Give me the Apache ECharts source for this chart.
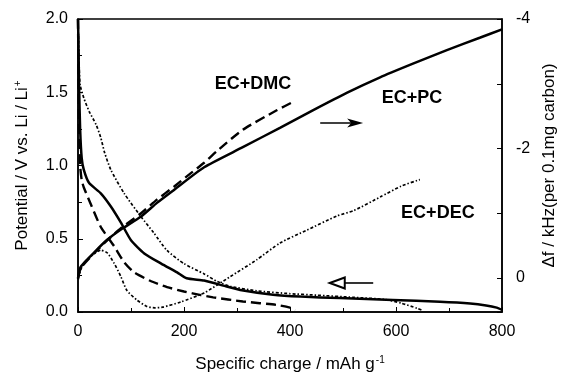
<!DOCTYPE html>
<html><head><meta charset="utf-8">
<script src="https://cdn.jsdelivr.net/npm/echarts@6/dist/echarts.min.js"></script>
<style>html,body{margin:0;padding:0;background:#fff}#c{width:564px;height:376px}</style>
</head><body><div id="c"></div>
<script>
// ---- data (x: specific charge mAh/g) ----
// Potential curves (left axis, V vs Li/Li+)
const pcPotential = [[0,2.0],[1,1.8],[2,1.55],[4,1.25],[7,1.05],[11,0.97],[21,0.88],[43,0.81],[62,0.72],[81,0.61],[100,0.49],[125,0.40],[157,0.33],[187,0.27],[205,0.23],[238,0.215],[274,0.18],[306,0.15],[368,0.118],[420,0.105],[494,0.095],[594,0.082],[683,0.07],[740,0.058],[770,0.045],[790,0.03],[800,0.015]];
const dmcPotential = [[0,2.0],[1,1.6],[2,1.25],[4,1.0],[7,0.9],[11,0.85],[26,0.72],[43,0.58],[68,0.45],[87,0.34],[106,0.27],[138,0.21],[168,0.17],[200,0.14],[232,0.115],[255,0.1],[311,0.072],[375,0.048],[400,0.03],[410,0.015]];
const decPotential = [[0,2.0],[2,1.7],[4,1.55],[11,1.46],[21,1.37],[34,1.28],[43,1.19],[50,1.09],[62,0.97],[87,0.81],[119,0.65],[143,0.54],[168,0.42],[200,0.33],[238,0.26],[262,0.21],[287,0.175],[337,0.145],[400,0.125],[450,0.115],[520,0.1],[580,0.085],[610,0.06],[640,0.025],[650,0.01]];
// Frequency shift curves (right axis, kHz per 0.1 mg carbon)
const pcFreq = [[0,0.0],[5,-0.17],[30,-0.39],[55,-0.59],[81,-0.75],[119,-0.95],[149,-1.16],[181,-1.36],[238,-1.71],[311,-2.02],[381,-2.32],[443,-2.59],[507,-2.86],[570,-3.1],[632,-3.31],[696,-3.52],[758,-3.71],[800,-3.84]];
const dmcFreq = [[0,0.02],[5,-0.15],[30,-0.38],[55,-0.58],[81,-0.77],[119,-1.0],[149,-1.21],[181,-1.41],[213,-1.62],[238,-1.78],[262,-1.96],[311,-2.29],[375,-2.59],[406,-2.72]];
const decFreq = [[0,0.0],[10,-0.22],[25,-0.34],[43,-0.43],[55,-0.39],[68,-0.23],[81,-0.02],[92,0.19],[111,0.34],[130,0.44],[145,0.46],[160,0.45],[194,0.37],[238,0.23],[287,-0.02],[337,-0.28],[381,-0.54],[432,-0.74],[489,-0.96],[520,-1.04],[570,-1.25],[610,-1.42],[645,-1.52]];
// Labels
const seriesLabels = ['EC+DMC','EC+PC','EC+DEC'];
const xTickLabels = ['0','200','400','600','800'];
const leftTickLabels = ['0.0','0.5','1.0','1.5','2.0'];
const rightTickLabels = ['-4','-2','0'];

const FONT = 'Liberation Sans';
const chart = echarts.init(document.getElementById('c'), null, {renderer:'canvas'});

const solid = {color:'#000', width:2.5, type:'solid'};
const dashed = {color:'#000', width:2.4, type:[10,5]};
const dotted = {color:'#000', width:1.7, type:[3,2,1.5,2]};

function mk(data, style, yi){
  return {type:'line', data:data, yAxisIndex:yi, showSymbol:false, symbol:'none',
    lineStyle:style, smooth:0.2, animation:false, silent:true, clip:true};
}
const supRich = {a:{fontSize:17, fontFamily:FONT, color:'#000'}, s:{fontSize:10, fontFamily:FONT, color:'#000', verticalAlign:'top', padding:[0,0,9,1]}};

chart.setOption({
  backgroundColor:'#fff',
  animation:false,
  grid:{left:78, right:62, top:19, bottom:64, show:true, borderColor:'#000', borderWidth:1.5, backgroundColor:'transparent', containLabel:false, outerBoundsMode:'none'},
  xAxis:{type:'value', min:0, max:800, interval:200,
    axisLine:{show:true, lineStyle:{color:'#000', width:1.5}},
    axisTick:{show:true, inside:true, length:5, lineStyle:{color:'#000'}},
    minorTick:{show:true, splitNumber:2, length:4, lineStyle:{color:'#000'}},
    splitLine:{show:false},
    axisLabel:{color:'#000', fontFamily:FONT, fontSize:16, margin:12,
      formatter:function(v){const i=xTickLabels.indexOf(String(v));return i>=0?xTickLabels[i]:'';}},
    name:'{a|Specific charge / mAh g}{s|-1}', nameLocation:'middle', nameGap:43,
    nameTextStyle:{color:'#000', fontFamily:FONT, rich:supRich}
  },
  yAxis:[
    {type:'value', min:0, max:2, interval:0.5, position:'left',
      axisLine:{show:true, lineStyle:{color:'#000', width:1.5}},
      axisTick:{show:true, inside:true, length:5, lineStyle:{color:'#000'}},
      minorTick:{show:true, splitNumber:2, length:4, lineStyle:{color:'#000'}},
      splitLine:{show:false},
      axisLabel:{color:'#000', fontFamily:FONT, fontSize:16, margin:10,
        formatter:function(v){const s=v.toFixed(1);return leftTickLabels.indexOf(s)>=0?s:'';}},
      name:'{a|Potential / V vs. Li / Li}{s|+}', nameLocation:'middle', nameGap:46, nameRotate:90,
      nameTextStyle:{color:'#000', fontFamily:FONT, rich:supRich}
    },
    {type:'value', min:-4, max:0.525, interval:2, position:'right', inverse:true,
      axisLine:{show:true, lineStyle:{color:'#000', width:1.5}},
      axisTick:{show:true, inside:true, length:5, lineStyle:{color:'#000'}},
      minorTick:{show:true, splitNumber:2, length:5, lineStyle:{color:'#000'}},
      splitLine:{show:false},
      axisLabel:{color:'#000', fontFamily:FONT, fontSize:16, margin:14,
        formatter:function(v){const s=String(Math.round(v*1000)/1000);return rightTickLabels.indexOf(s)>=0?s:'';}},
      name:'Δf / kHz(per 0.1mg carbon)', nameLocation:'middle', nameGap:28, nameRotate:90,
      nameTextStyle:{color:'#000', fontFamily:FONT, fontSize:17}
    }
  ],
  series:[
    mk(pcPotential, solid, 0),
    mk(dmcPotential, dashed, 0),
    mk(decPotential, dotted, 0),
    mk(pcFreq, solid, 1),
    mk(dmcFreq, dashed, 1),
    mk(decFreq, dotted, 1)
  ]
});

// Annotations placed in data coordinates (left axis units)
const labelPos = [[330,1.556],[630,1.461],[679,0.676]];
const arrowRight = [[457,1.29],[538,1.29]];
const arrowLeft = [[557,0.198],[475,0.198]];
function px(p){return chart.convertToPixel({xAxisIndex:0, yAxisIndex:0}, p);}
const g = [];
seriesLabels.forEach(function(t,i){
  const p = px(labelPos[i]);
  g.push({type:'text', x:p[0], y:p[1], style:{text:t, fill:'#000', font:'bold 18px "'+FONT+'"', align:'center', verticalAlign:'middle'}});
});
(function(){
  const a=px(arrowRight[0]), b=px(arrowRight[1]);
  g.push({type:'line', shape:{x1:a[0], y1:a[1], x2:b[0]-10, y2:b[1]}, style:{stroke:'#000', lineWidth:1.6}});
  g.push({type:'polygon', shape:{points:[[b[0],b[1]],[b[0]-16,b[1]-4.5],[b[0]-12,b[1]],[b[0]-16,b[1]+4.5]]}, style:{fill:'#000'}});
  const c=px(arrowLeft[0]), d=px(arrowLeft[1]);
  g.push({type:'line', shape:{x1:c[0], y1:c[1], x2:d[0]+15, y2:d[1]}, style:{stroke:'#000', lineWidth:1.6}});
  g.push({type:'polygon', shape:{points:[[d[0],d[1]],[d[0]+15,d[1]-5.5],[d[0]+15,d[1]+5.5]]}, style:{fill:'none', stroke:'#000', lineWidth:2}});
})();
chart.setOption({graphic:g});
</script></body></html>
